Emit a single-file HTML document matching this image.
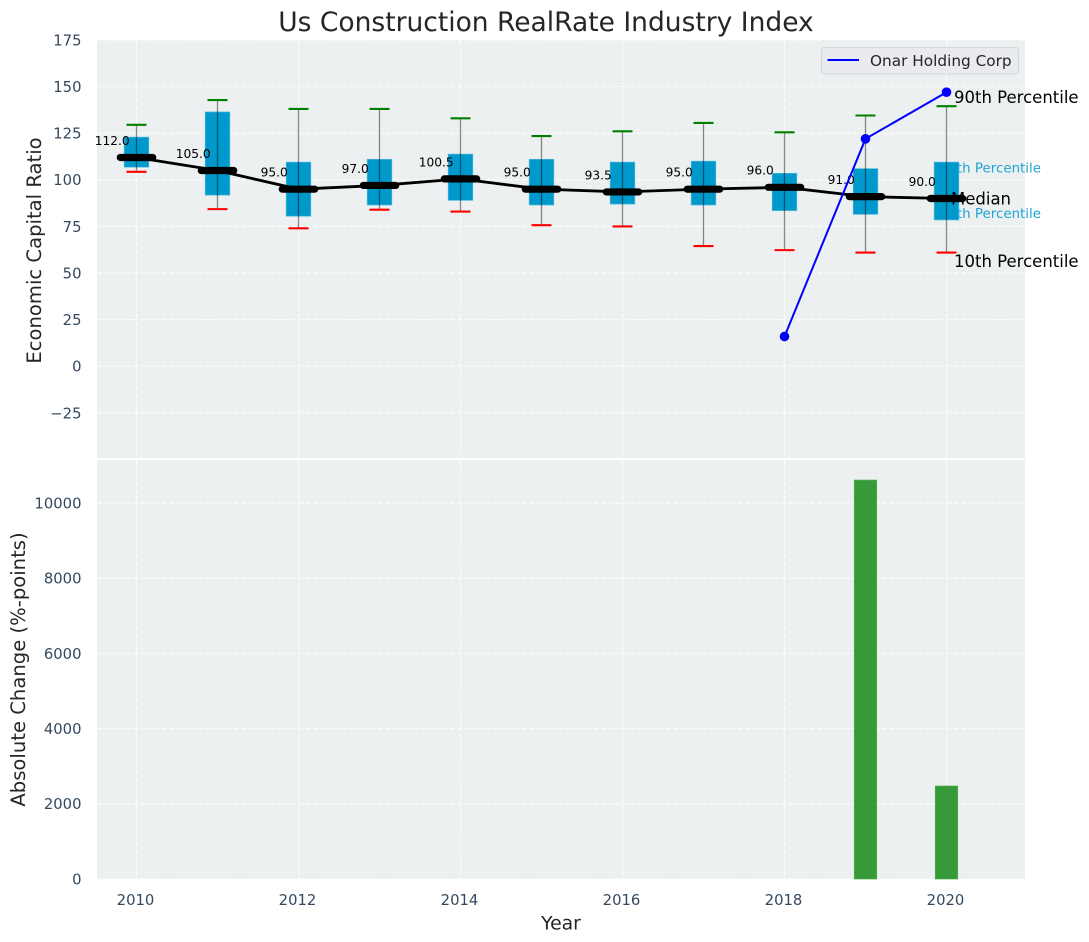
<!DOCTYPE html>
<html>
<head>
<meta charset="utf-8">
<title>Us Construction RealRate Industry Index</title>
<style>
html,body{margin:0;padding:0;background:#fff;width:1089px;height:942px;overflow:hidden}
svg{display:block}
text{font-family:"DejaVu Sans","Liberation Sans",sans-serif}
</style>
</head>
<body>
<svg id="chart" width="1089" height="942" viewBox="0 0 1089 942" xmlns="http://www.w3.org/2000/svg"></svg>
<script>
const years = [2010,2011,2012,2013,2014,2015,2016,2017,2018,2019,2020];
const p90 = [129.5,142.8,138,138,133,123.5,126,130.5,125.5,134.5,139.5];
const p75 = [122.9,136.4,109.5,111,113.8,111,109.5,110,103.5,106,109.5];
const medians = [112,105,95,97,100.5,95,93.5,95,96,91,90];
const p25 = [106.8,91.8,80.5,86.5,89,86.5,87,86.5,83.5,81.5,78.5];
const p10 = [104.3,84.3,74,84,83,75.7,75,64.5,62.3,61,61];
const medianLabels = ["112.0","105.0","95.0","97.0","100.5","95.0","93.5","95.0","96.0","91.0","90.0"];
const companyYears = [2018,2019,2020];
const companyValues = [16,122,147];
const changeValues = [0,0,0,0,0,0,0,0,0,10610,2473];
const topTicks = [-25,0,25,50,75,100,125,150,175];
const bottomTicks = [0,2000,4000,6000,8000,10000];
const xTicks = [2010,2012,2014,2016,2018,2020];

const NS = 'http://www.w3.org/2000/svg';
const svg = document.getElementById('chart');
const L = 97, R = 1025, T1 = 40, B1 = 458, T2 = 460, B2 = 879;
const xs = v => 136.5 + (v - 2010) * 81;
const yTop = v => 366.3 - v * 1.8646;
const yBot = v => 879 - v * 0.0376;
const tickColor = '#34495e';

function make(tag, attrs, text) {
  const el = document.createElementNS(NS, tag);
  for (const k in attrs) el.setAttribute(k, attrs[k]);
  if (text !== undefined) el.textContent = text;
  svg.appendChild(el);
  return el;
}
function name(el, n, i) {
  
  
  return el;
}
function minusLabel(v) { return v < 0 ? '\u2212' + Math.abs(v) : String(v); }

// Panels
name(make('rect', {x:L, y:T1, width:R-L, height:B1-T1, fill:'#ecf0f1'}), 'top-plot-background');
name(make('rect', {x:L, y:T2, width:R-L, height:B2-T2, fill:'#ecf0f1'}), 'bottom-plot-background');

// Grid
const grid = {stroke:'#ffffff', 'stroke-width':1, 'stroke-dasharray':'5 2.2', opacity:0.95};
topTicks.forEach(v => {
  name(make('line', {x1:L, x2:R, y1:yTop(v), y2:yTop(v), ...grid}), 'top-gridline-y');
});
bottomTicks.forEach(v => {
  name(make('line', {x1:L, x2:R, y1:yBot(v), y2:yBot(v), ...grid}), 'bottom-gridline-y');
});
xTicks.forEach(v => {
  name(make('line', {x1:xs(v), x2:xs(v), y1:T1, y2:B1, ...grid}), 'top-gridline-x');
  name(make('line', {x1:xs(v), x2:xs(v), y1:T2, y2:B2, ...grid}), 'bottom-gridline-x');
});

// Percentile annotation (behind boxes)
name(make('text', {x:1041, y:yTop(p75[10]) + 10.5, 'text-anchor':'end', 'font-size':13.4, fill:'#1ea3d1'}, '75th Percentile'), 'p75-annotation');
name(make('text', {x:1041, y:yTop(p25[10]) - 2, 'text-anchor':'end', 'font-size':13.4, fill:'#1ea3d1'}, '25th Percentile'), 'p25-annotation');

// Boxes, whiskers, caps
years.forEach((yr, i) => {
  const x = xs(yr);
  name(make('rect', {x:x-12.3, y:yTop(p75[i]), width:24.6, height:yTop(p25[i])-yTop(p75[i]), fill:'#0099cc', stroke:'#4db8dc', 'stroke-width':0.7}), 'box-' + yr);
  name(make('line', {x1:x, x2:x, y1:yTop(p90[i]), y2:yTop(p10[i]), stroke:'#000', 'stroke-opacity':0.45, 'stroke-width':1.3}), 'whisker-' + yr);
  name(make('line', {x1:x-10, x2:x+10, y1:yTop(p90[i]), y2:yTop(p90[i]), stroke:'#008000', 'stroke-width':2.1}), 'p90-cap-' + yr);
  name(make('line', {x1:x-10, x2:x+10, y1:yTop(p10[i]), y2:yTop(p10[i]), stroke:'#ff0000', 'stroke-width':2.1}), 'p10-cap-' + yr);
});

// Median line and markers
name(make('polyline', {points:years.map((yr,i)=>xs(yr)+','+yTop(medians[i])).join(' '), fill:'none', stroke:'#000', 'stroke-width':2.8}), 'median-line');
years.forEach((yr, i) => {
  const x = xs(yr), y = yTop(medians[i]);
  name(make('line', {x1:x-16.2, x2:x+16.2, y1:y, y2:y, stroke:'#000', 'stroke-width':7.2, 'stroke-linecap':'round'}), 'median-marker-' + yr);
  name(make('text', {x:x-24.3, y:y-12.6, 'text-anchor':'middle', 'font-size':12.2, fill:'#000'}, medianLabels[i]), 'median-label-' + yr);
});

// Company series
name(make('polyline', {points:companyYears.map((yr,i)=>xs(yr)+','+yTop(companyValues[i])).join(' '), fill:'none', stroke:'#0000ff', 'stroke-width':2}), 'company-line');
companyYears.forEach((yr, i) => {
  name(make('circle', {cx:xs(yr), cy:yTop(companyValues[i]), r:4.8, fill:'#0000ff'}), 'company-point-' + yr);
});

// Black annotations
name(make('text', {x:954, y:103, 'font-size':16.5, fill:'#000'}, '90th Percentile'), 'p90-annotation');
name(make('text', {x:951, y:204.5, 'font-size':16.5, fill:'#000'}, 'Median'), 'median-annotation');
name(make('text', {x:954, y:267, 'font-size':16.5, fill:'#000'}, '10th Percentile'), 'p10-annotation');

// Bars
years.forEach((yr, i) => {
  if (changeValues[i] === 0) return;
  const y = yBot(changeValues[i]);
  name(make('rect', {x:xs(yr)-11.2, y:y, width:22.4, height:B2-y, fill:'#008000', 'fill-opacity':0.77, stroke:'#4cae50', 'stroke-width':0.7}), 'change-bar-' + yr);
});

// Tick labels
topTicks.forEach(v => {
  name(make('text', {x:81.5, y:yTop(v)+5.4, 'text-anchor':'end', 'font-size':14.8, fill:tickColor}, minusLabel(v)), 'top-y-tick-label');
});
bottomTicks.forEach(v => {
  name(make('text', {x:81.5, y:yBot(v)+5.4, 'text-anchor':'end', 'font-size':14.8, fill:tickColor}, minusLabel(v)), 'bottom-y-tick-label');
});
xTicks.forEach(v => {
  name(make('text', {x:xs(v)-1, y:904.8, 'text-anchor':'middle', 'font-size':14.8, fill:tickColor}, String(v)), 'x-tick-label');
});

// Titles
name(make('text', {x:546, y:31, 'text-anchor':'middle', 'font-size':26.5, fill:'#262626'}, 'Us Construction RealRate Industry Index'), 'chart-title');
name(make('text', {x:561, y:929.5, 'text-anchor':'middle', 'font-size':18.8, fill:'#262626'}, 'Year'), 'x-axis-title');
name(make('text', {x:0, y:0, transform:'translate(41,250.5) rotate(-90)', 'text-anchor':'middle', 'font-size':19.6, fill:'#262626'}, 'Economic Capital Ratio'), 'top-y-axis-title');
name(make('text', {x:0, y:0, transform:'translate(25,669.5) rotate(-90)', 'text-anchor':'middle', 'font-size':19.6, fill:'#262626'}, 'Absolute Change (%-points)'), 'bottom-y-axis-title');

// Legend
name(make('rect', {x:821.5, y:47.5, width:197, height:26.5, rx:3, fill:'#e9ebf0', stroke:'#d5d7db', 'stroke-width':1}), 'legend-box');
name(make('line', {x1:827.5, x2:859, y1:60, y2:60, stroke:'#0000ff', 'stroke-width':2}), 'legend-line');
name(make('text', {x:870, y:66, 'font-size':15.3, fill:'#262626'}, 'Onar Holding Corp'), 'legend-label');
</script>
</body>
</html>
